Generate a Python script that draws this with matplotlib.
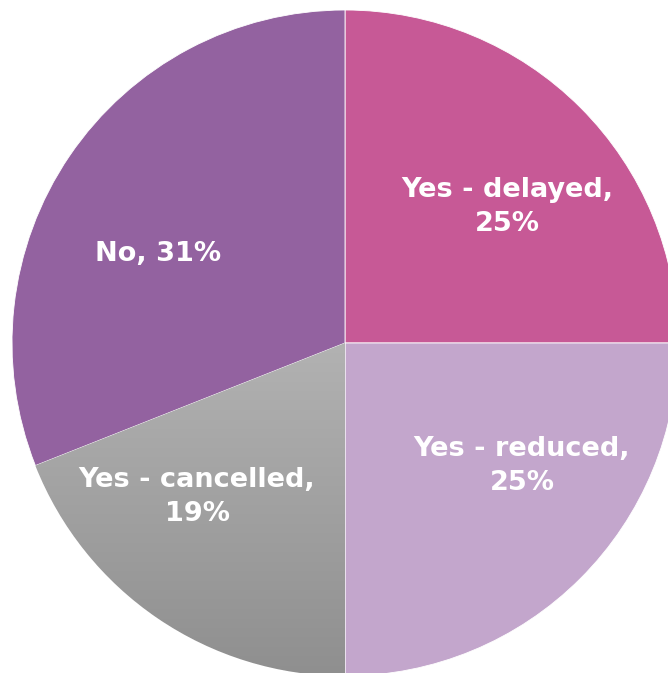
import numpy as np
import matplotlib.pyplot as plt
from matplotlib.colors import LinearSegmentedColormap

labels = ['Yes - delayed,\n25%', 'Yes - reduced,\n25%', 'Yes - cancelled,\n19%', 'No, 31%']
shares = [25, 25, 19, 31]
colors = ['#C75996', '#C3A6CC', '#A6A6A6', '#9362A0']
# label centres in pixel coordinates (x from left, y from top)
label_xy = [(507, 207), (522, 466), (197, 497), (158, 254)]

W, H = 668, 673
cx, cy, r = 345, 343, 333

fig = plt.figure(figsize=(W / 100, H / 100), dpi=100)
ax = fig.add_axes([0, 0, 1, 1])
ax.set_xlim(0, W)
ax.set_ylim(0, H)
ax.set_aspect('equal')
ax.axis('off')

wedges, _ = ax.pie(shares, colors=colors, startangle=90, counterclock=False,
                   center=(cx, H - cy), radius=r,
                   wedgeprops=dict(linewidth=0.6, edgecolor='white'))

# vertical grey gradient on the "cancelled" slice
grey = LinearSegmentedColormap.from_list('grey', ['#B2B2B2', '#8F8F8F'])
grad = np.linspace(0, 1, 256).reshape(-1, 1)
img = ax.imshow(grad, cmap=grey, aspect='auto',
                extent=(cx - r, cx, H - cy - r, H - cy), origin='upper', zorder=1.5)
img.set_clip_path(wedges[2])
ax.set_xlim(0, W)
ax.set_ylim(0, H)

for text, (x, y) in zip(labels, label_xy):
    ax.text(x, H - y, text, ha='center', va='center', color='white',
            fontsize=19.5, fontfamily='DejaVu Sans', fontweight='bold',
            linespacing=1.4, zorder=3)

fig.savefig('out.png', dpi=100)
